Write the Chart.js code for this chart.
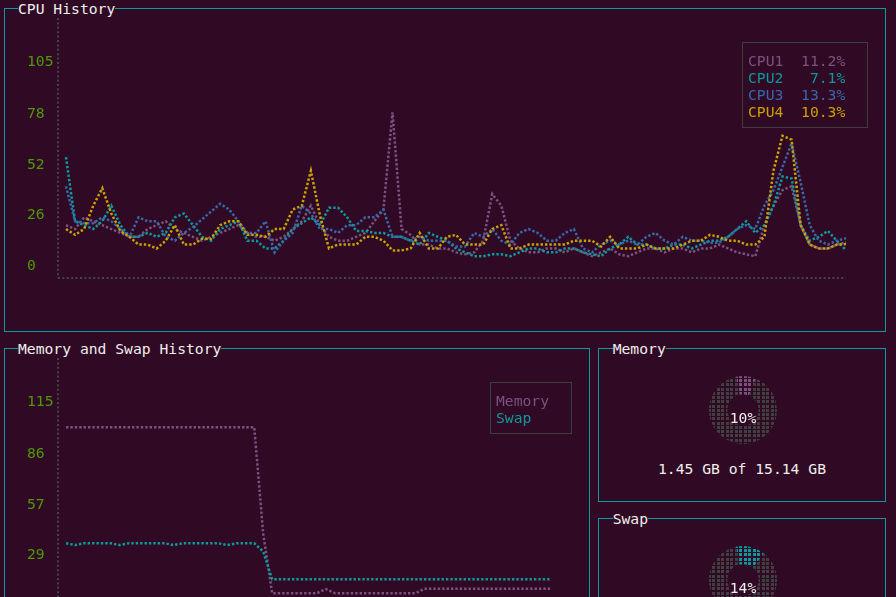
<!DOCTYPE html>
<html><head><meta charset="utf-8">
<script src="https://cdn.jsdelivr.net/npm/chart.js@4.4.1/dist/chart.umd.min.js"></script>
<style>
html,body{margin:0;padding:0;}
body{width:896px;height:597px;overflow:hidden;position:relative;background:#300a24;font-family:'DejaVu Sans Mono',monospace;font-size:14.7px;color:#eeeeec;}
.panel{position:absolute;box-sizing:border-box;border:1px solid #0e9a9c;}
.title{position:absolute;height:17px;line-height:17px;background:#300a24;color:#eeeeec;white-space:pre;}
.legend{position:absolute;box-sizing:border-box;border:1px solid #3e3e3e;white-space:pre;line-height:17px;}
canvas{position:absolute;}
.center{position:absolute;text-align:center;line-height:17px;white-space:pre;color:#eeeeec;}
</style></head><body>
<div class="panel" style="left:4px;top:8px;width:882px;height:324px"></div>
<div class="panel" style="left:4px;top:348px;width:586px;height:300px"></div>
<div class="panel" style="left:598px;top:348px;width:288px;height:154px"></div>
<div class="panel" style="left:598px;top:518px;width:288px;height:200px"></div>
<div class="title" style="left:18px;top:0px">CPU History</div>
<div class="title" style="left:18px;top:340px">Memory and Swap History</div>
<div class="title" style="left:612.7px;top:340px">Memory</div>
<div class="title" style="left:612.7px;top:510px">Swap</div>

<canvas id="cpuChart" width="830" height="290" style="left:27px;top:0px"></canvas>
<canvas id="memChart" width="535" height="290" style="left:27px;top:340px"></canvas>
<canvas id="memGauge" width="80" height="80" style="left:703px;top:370px"></canvas>
<canvas id="swapGauge" width="80" height="80" style="left:703px;top:540px"></canvas>

<div id="cpuLegend" class="legend" style="left:742px;top:42px;width:126px;height:86px;padding:9px 0 0 5px"></div>
<div id="memLegend" class="legend" style="left:490px;top:382px;width:82px;height:52px;padding:9px 0 0 5px"></div>
<div id="memPctText" class="center" style="left:703px;top:409px;width:80px"></div>
<div id="memAmount" class="center" style="left:598px;top:460px;width:288px"></div>
<div id="swapPctText" class="center" style="left:703px;top:579px;width:80px"></div>

<script>
// ---------- data ----------
const cpuNames = ['CPU1', 'CPU2', 'CPU3', 'CPU4'];
const cpu1 = [20,18,24,22,20,18,16,14,14,18, 20,22,18,16,14,12,14,16,18,20, 16,14,14,12,14,18,22,30,20,14, 12,12,14,16,22,28,78,18,15,10, 10,8,8,6,5,6,12,36,30,12, 8,6,6,8,8,6,8,6,4,6, 8,5,4,6,8,8,6,8,8,6, 8,8,10,8,6,5,4,20,30,38, 40,20,10,8,8,10,11.2];
const cpu2 = [55,22,20,18,22,30,20,14,14,16, 14,16,24,26,20,14,12,18,20,22, 12,12,8,8,12,18,21,24,20,29, 29,24,17,17,16,16,14,14,12,10, 16,14,12,8,6,4,4,5,5,4, 6,8,8,6,6,8,8,6,5,4, 8,10,14,10,10,8,8,10,10,8, 10,12,12,14,18,22,16,20,30,45, 44,20,12,14,17,12,7.1];
const cpu3 = [40,22,21,21,24,22,18,14,24,22, 22,14,12,16,19,23,27,31,28,22, 16,16,22,6,12,16,30,26,18,18, 16,20,20,24,24,28,14,14,12,14, 12,12,12,9,9,16,14,18,12,10, 16,18,16,12,12,16,18,8,6,10, 12,10,12,10,14,16,12,10,14,12, 12,11,11,14,18,20,18,30,38,50, 62,42,20,12,10,12,13.3];
const cpu4 = [18,15,18,30,39,26,17,14,10,10, 8,12,20,10,10,13,13,20,22,22, 15,15,14,18,18,28,30,48,25,8, 10,10,10,14,14,12,7,7,8,16, 8,8,14,15,10,10,10,18,20,8, 8,10,10,10,10,10,12,12,12,9, 14,8,8,8,10,8,8,8,10,12, 12,15,14,12,12,10,10,14,48,66, 64,20,10,8,8,10,10.3];
const cpuTicks = [0, 26, 52, 78, 105];

const memNames = ['Memory', 'Swap'];
const memHistory = [100,100,100,100,100,100,100,100,100,100, 100,100,100,100,100,100,100,100,100,100, 100,100,40,6.5,6.5,6.5,6.5,6.5,6.5,8.8, 6.5,6.5,6.5,6.5,6.5,6.5,6.5,6.5,6.5,6.5, 9,9,9,9,9,9,9,9,9,9, 9,9,9,9,9];
const swapHistory = [34.6,33.6,34.6,34.6,34.6,34.6,33.6,34.6,34.6,34.6, 34.6,34.6,33.6,34.6,34.6,34.6,34.6,34.6,33.6,34.6, 34.6,34.6,30,14.3,14.3,14.3,14.3,14.3,14.3,14.3, 14.3,14.3,14.3,14.3,14.3,14.3,14.3,14.3,14.3,14.3, 14.3,14.3,14.3,14.3,14.3,14.3,14.3,14.3,14.3,14.3, 14.3,14.3,14.3,14.3,14.3];
const memTicks = [0, 29, 57, 86, 115];

const memUsedGB = 1.45;
const memTotalGB = 15.14;
const swapPercent = 14;

// ---------- styles ----------
const cpuColors = ['#7a5280', '#0b9a9c', '#3867aa', '#c8a200'];
const memColors = ['#7a5280', '#0b9a9c'];
const axisColor = '#444444';
const tickColor = '#4e9a06';

Chart.defaults.font.family = "'DejaVu Sans Mono', monospace";
Chart.defaults.font.size = 14.7;
Chart.defaults.animation = false;

// dotted axis lines along the chart area edges (terminal braille look)
const dottedAxes = {
  id: 'dottedAxes',
  beforeDatasetsDraw(chart) {
    const { ctx, chartArea: a } = chart;
    ctx.save();
    ctx.strokeStyle = axisColor;
    ctx.lineWidth = 2;
    ctx.setLineDash([2, 2.4]);
    ctx.beginPath();
    ctx.moveTo(a.left, a.top);
    ctx.lineTo(a.left, a.bottom);
    ctx.stroke();
    ctx.beginPath();
    ctx.moveTo(a.left, a.bottom);
    ctx.lineTo(a.right - 2, a.bottom);
    ctx.stroke();
    ctx.restore();
  }
};

function historyChart(id, series, names, colors, ticks, yMin, yMax, xMin, xMax, pad) {
  const n = series.length;
  return new Chart(document.getElementById(id), {
    type: 'line',
    plugins: [dottedAxes],
    data: {
      datasets: series.map((s, k) => ({
        label: names[k],
        data: s.map((v, i) => ({ x: i, y: v })),
        borderColor: colors[k],
        borderWidth: 2.5,
        borderDash: [2.4, 2],
        borderCapStyle: 'butt',
        pointRadius: 0,
        tension: 0,
        fill: false,
        order: n - 1 - k
      }))
    },
    options: {
      responsive: false,
      animation: false,
      events: [],
      layout: { padding: pad },
      plugins: { legend: { display: false }, tooltip: { enabled: false } },
      scales: {
        x: {
          type: 'linear', min: xMin, max: xMax,
          grid: { display: false },
          ticks: { display: false },
          border: { display: false },
          afterFit(s) { s.height = 0; }
        },
        y: {
          type: 'linear', min: yMin, max: yMax,
          grid: { display: false },
          border: { display: false },
          ticks: { color: tickColor, crossAlign: 'far', padding: 0, autoSkip: false, labelOffset: 2 },
          afterBuildTicks(s) { s.ticks = ticks.map(v => ({ value: v })); },
          afterFit(s) { s.width = 31; }
        }
      }
    }
  });
}

historyChart('cpuChart', [cpu1, cpu2, cpu3, cpu4], cpuNames, cpuColors, cpuTicks,
  -7.2, 126.6, -0.88, 86.22, { top: 18, bottom: 12, left: 0, right: 9 });
historyChart('memChart', [memHistory, swapHistory], memNames, memColors, memTicks,
  -7.9, 139, -0.893, 54.22, { top: 18, bottom: 11.3, left: 0, right: 10 });

// legends
const cpuSeries = [cpu1, cpu2, cpu3, cpu4];
const cpuLegend = document.getElementById('cpuLegend');
cpuSeries.forEach((s, k) => {
  const row = document.createElement('div');
  row.style.color = cpuColors[k];
  row.textContent = cpuNames[k] + (s[s.length - 1].toFixed(1) + '%').padStart(7);
  cpuLegend.appendChild(row);
});
const memLegend = document.getElementById('memLegend');
memNames.forEach((name, k) => {
  const row = document.createElement('div');
  row.style.color = memColors[k];
  row.textContent = name;
  memLegend.appendChild(row);
});

// gauges
function dotPattern(color) {
  const c = document.createElement('canvas');
  c.width = 9; c.height = 17;
  const g = c.getContext('2d');
  g.fillStyle = color;
  [0, 5].forEach(x => [1, 5, 9, 13].forEach(y => g.fillRect(x, y, 3, 3)));
  return g.createPattern(c, 'repeat');
}
function gauge(id, pct, color) {
  const ctx = document.getElementById(id).getContext('2d');
  return new Chart(ctx, {
    type: 'doughnut',
    data: {
      labels: ['used', 'free'],
      datasets: [{ data: [pct, 100 - pct], backgroundColor: [dotPattern(color), dotPattern('#404040')], borderWidth: 0 }]
    },
    options: {
      responsive: false, animation: false, events: [],
      cutout: '46%', rotation: -12,
      layout: { padding: 6 },
      plugins: { legend: { display: false }, tooltip: { enabled: false } }
    }
  });
}
const memPercent = memUsedGB / memTotalGB * 100;
gauge('memGauge', memPercent, memColors[0]);
gauge('swapGauge', swapPercent, memColors[1]);
document.getElementById('memPctText').textContent = Math.round(memPercent) + '%';
document.getElementById('swapPctText').textContent = swapPercent + '%';
document.getElementById('memAmount').textContent = memUsedGB.toFixed(2) + ' GB of ' + memTotalGB.toFixed(2) + ' GB';
</script>
</body></html>
